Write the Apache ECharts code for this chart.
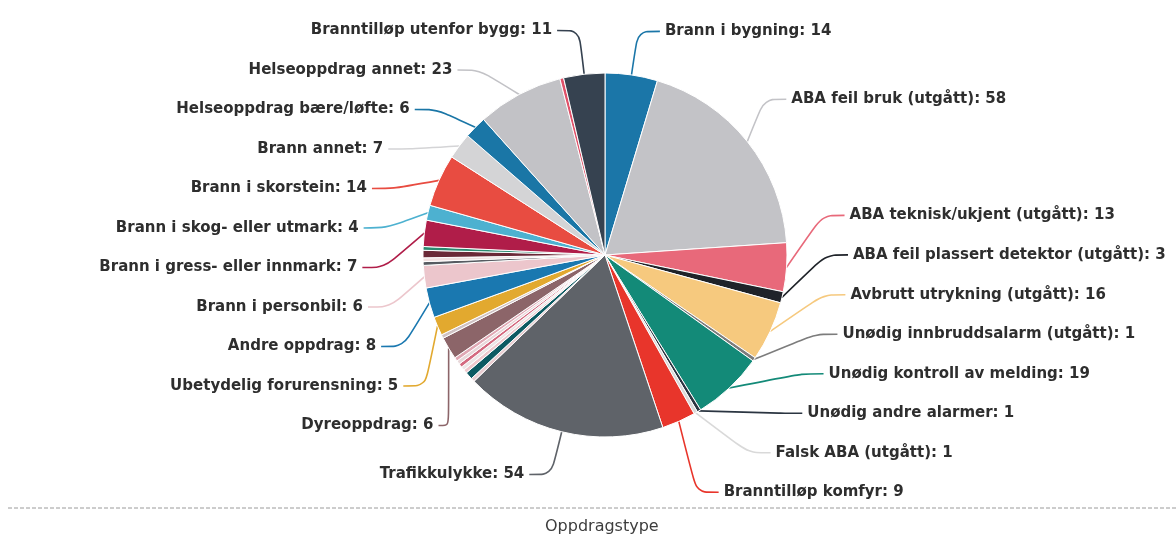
<!DOCTYPE html>
<html>
<head>
<meta charset="utf-8">
<script src="https://cdn.jsdelivr.net/npm/echarts@6/dist/echarts.min.js"></script>
<style>
  html, body { margin: 0; padding: 0; background: #ffffff; }
  #chart { width: 1176px; height: 540px; }
</style>
</head>
<body>
<div id="chart"></div>
<script>
// Slice names, clockwise from 12 o'clock
const categories = [
  'Brann i bygning',
  'ABA feil bruk (utgått)',
  'ABA teknisk/ukjent (utgått)',
  'ABA feil plassert detektor (utgått)',
  'Avbrutt utrykning (utgått)',
  'Unødig innbruddsalarm (utgått)',
  'Unødig kontroll av melding',
  'Unødig andre alarmer',
  'Falsk ABA (utgått)',
  'Branntilløp komfyr',
  'Trafikkulykke',
  'Øvrige 1', 'Øvrige 2', 'Øvrige 3', 'Øvrige 4', 'Øvrige 5', 'Øvrige 6', 'Øvrige 7',
  'Dyreoppdrag',
  'Øvrige 8',
  'Ubetydelig forurensning',
  'Andre oppdrag',
  'Brann i personbil',
  'Øvrige 9', 'Øvrige 10', 'Øvrige 11', 'Øvrige 12',
  'Brann i gress- eller innmark',
  'Brann i skog- eller utmark',
  'Brann i skorstein',
  'Brann annet',
  'Helseoppdrag bære/løfte',
  'Helseoppdrag annet',
  'Øvrige 13',
  'Branntilløp utenfor bygg'
];
const values = [
  14, 58, 13, 3, 16, 1, 19, 1, 1, 9, 54,
  1, 2, 1, 1, 1, 1, 1,
  6,
  1,
  5, 8, 6,
  1, 1, 2, 1,
  7, 4, 14, 7, 6, 23,
  1,
  11
];
// Slices whose labels are not shown in the chart
const unlabelled = [
  'Øvrige 1', 'Øvrige 2', 'Øvrige 3', 'Øvrige 4', 'Øvrige 5', 'Øvrige 6', 'Øvrige 7',
  'Øvrige 8', 'Øvrige 9', 'Øvrige 10', 'Øvrige 11', 'Øvrige 12', 'Øvrige 13'
];
const palette = [
  '#1b76a8', '#c3c3c7', '#e8697a', '#1f2329', '#f6c97e', '#7c7c7c', '#138a78',
  '#2b3541', '#d9d9d9', '#e8352b', '#5f6369',
  '#e9cdd1', '#0d5a62', '#efc8cd', '#ece5e6', '#d46a80', '#e8d8da', '#e0a8b4',
  '#8c6569',
  '#cfc2c4',
  '#e2a92f', '#1a78b0', '#ecc6cc',
  '#565b61', '#f0e0e0', '#6a2937', '#2a8a70',
  '#b01d49', '#4db1d0', '#e84c41', '#d4d4d6', '#1a76a6', '#c2c2c6',
  '#e05169',
  '#364250'
];

const data = categories.map((name, i) => {
  const item = { name: name, value: values[i], itemStyle: { color: palette[i] } };
  if (unlabelled.indexOf(name) >= 0) {
    item.label = { show: false };
    item.labelLine = { show: false };
  }
  return item;
});

const chart = echarts.init(document.getElementById('chart'), null, { renderer: 'canvas' });
chart.setOption({
  backgroundColor: '#ffffff',
  animation: false,
  title: {
    text: 'Oppdragstype',
    left: 540,
    top: 514,
    textStyle: { fontFamily: 'DejaVu Sans', fontSize: 16, fontWeight: 'normal', color: '#3d3d3d' }
  },
  graphic: [{
    type: 'line',
    shape: { x1: 8, y1: 508, x2: 1176, y2: 508 },
    style: { stroke: '#9a9a9a', lineWidth: 1, lineDash: [4, 2] },
    silent: true
  }],
  series: [{
    type: 'pie',
    left: 0,
    top: 0,
    width: 1176,
    height: 512,
    center: [605, 255],
    radius: 182,
    startAngle: 90,
    clockwise: true,
    minShowLabelAngle: 0,
    avoidLabelOverlap: true,
    data: data,
    itemStyle: { borderColor: '#ffffff', borderWidth: 1 },
    label: {
      show: true,
      position: 'outside',
      alignTo: 'none',
      formatter: '{b}: {c}',
      fontFamily: 'DejaVu Sans',
      fontSize: 15,
      fontWeight: 'bold',
      color: '#2e2e2e',
      lineHeight: 37.5
    },
    labelLine: {
      show: true,
      length: 44,
      length2: 22,
      smooth: 0.3,
      lineStyle: { width: 1.6 }
    }
  }]
});
</script>
</body>
</html>
